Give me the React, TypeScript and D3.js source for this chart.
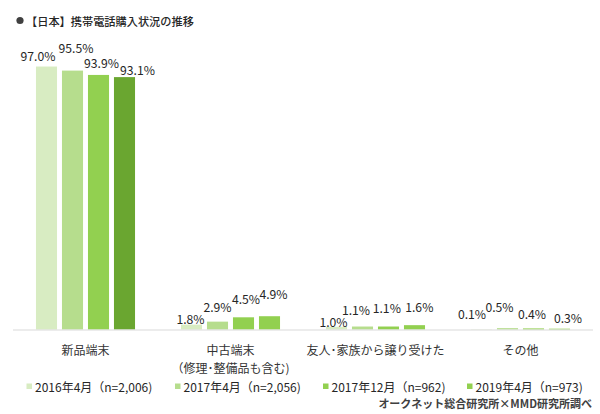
import React from "react";
import * as d3 from "d3";

const title = "【日本】携帯電話購入状況の推移";
const categories = ["新品端末", "中古端末", "友人･家族から譲り受けた", "その他"];
const categorySubLabels = ["", "（修理･整備品も含む)", "", ""];
const seriesNames = [
  "2016年4月（n=2,006)",
  "2017年4月（n=2,056)",
  "2017年12月（n=962)",
  "2019年4月（n=973)",
];
const s2016Apr = [97.0, 1.8, 1.0, 0.1];
const s2017Apr = [95.5, 2.9, 1.1, 0.5];
const s2017Dec = [93.9, 4.5, 1.1, 0.4];
const s2019Apr = [93.1, 4.9, 1.6, 0.3];
const seriesValues = [s2016Apr, s2017Apr, s2017Dec, s2019Apr];
const credit = "オークネット総合研究所×MMD研究所調べ";

// label nudges (dx from bar centre, dy from bar top) per [category][series]
const labelNudges = [
  [[-8.5, -6], [3.5, -18], [3, -7.4], [13, -2.6]],
  [[-1, -1], [0, -10], [2.5, -13.8], [4, -17.7]],
  [[-3, 0.5], [-6.5, -12], [-1.7, -13.3], [4.8, -12.7]],
  [[-9.5, -10.7], [-8, -16], [-1.5, -9], [8.5, -6]],
];

const colors = ["#d8ecc2", "#b6dd8d", "#92d050", "#92d050"];
const highlightColor = "#6aa630";

const W = 600;
const H = 414;
const FONT = "'Noto Sans CJK JP', 'Noto Sans', sans-serif";

export default function App() {
  const x0 = d3.scaleBand<string>().domain(categories).range([13, 593]).paddingInner(0).paddingOuter(0);
  const bw = x0.bandwidth();
  const x1 = d3
    .scaleBand<number>()
    .domain(d3.range(seriesNames.length))
    .range([bw / 2 - 52, bw / 2 + 52])
    .paddingInner(0.19)
    .paddingOuter(0.095);
  const y = d3.scaleLinear().domain([0, 100]).range([329.5, 58.4]);

  const legendX = [26.5, 175, 323, 467];

  return (
    <svg width={W} height={H} style={{ position: "absolute", left: 0, top: 0, background: "#fff" }} fontFamily={FONT}>
      <rect x={0} y={0} width={W} height={H} fill="#fff" />
      <circle cx={20} cy={20.5} r={3.6} fill="#404040" />
      <text x={26} y={20.5} dominantBaseline="central" fontSize={11.2} fill="#262626" fontWeight={500}>
        {title}
      </text>

      {categories.map((c, ci) =>
        seriesValues.map((vals, si) => {
          const v = vals[ci];
          const bx = (x0(c) as number) + (x1(si) as number);
          const top = y(v);
          const fill = ci === 0 && si === 3 ? highlightColor : colors[si];
          const [dx, dy] = labelNudges[ci][si];
          return (
            <g key={`${ci}-${si}`}>
              <rect x={bx} y={top} width={x1.bandwidth()} height={y(0) - top} fill={fill} />
              <text
                x={bx + x1.bandwidth() / 2 + dx}
                y={top + dy}
                textAnchor="middle"
                fontSize={12.2}
                fill="#262626"
              >
                {v.toFixed(1) + "%"}
              </text>
            </g>
          );
        })
      )}

      <line x1={13} x2={593} y1={y(0) + 0.5} y2={y(0) + 0.5} stroke="#d9d9d9" strokeWidth={1} />

      {categories.map((c, ci) => {
        const cx = (x0(c) as number) + bw / 2;
        return (
          <g key={c}>
            <text x={cx} y={349.5} textAnchor="middle" dominantBaseline="central" fontSize={12} fill="#333">
              {c}
            </text>
            {categorySubLabels[ci] && (
              <text x={cx} y={367.5} textAnchor="middle" dominantBaseline="central" fontSize={12} fill="#333">
                {categorySubLabels[ci]}
              </text>
            )}
          </g>
        );
      })}

      {seriesNames.map((s, si) => (
        <g key={s}>
          <rect x={legendX[si]} y={383.5} width={5.5} height={5.5} fill={colors[si]} />
          <text x={legendX[si] + 8.5} y={386.5} dominantBaseline="central" fontSize={12} fill="#262626">
            {s}
          </text>
        </g>
      ))}

      <text x={592} y={402.5} textAnchor="end" dominantBaseline="central" fontSize={11} fontWeight={700} fill="#404040">
        {credit}
      </text>
    </svg>
  );
}
